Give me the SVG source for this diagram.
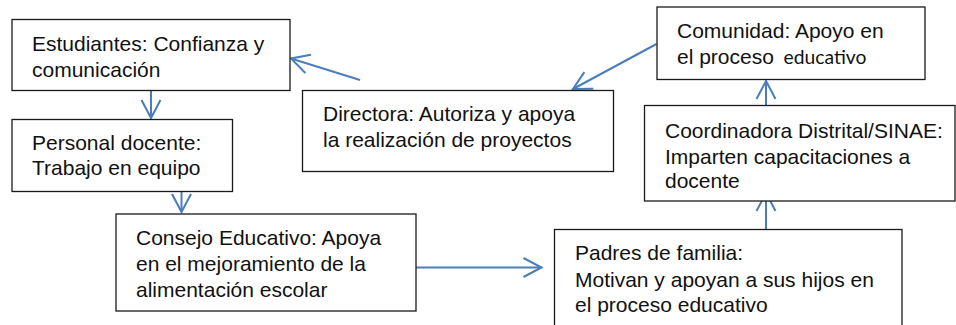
<svg xmlns="http://www.w3.org/2000/svg" width="956" height="325" viewBox="0 0 956 325">
<defs>
<style>
.box{fill:#fff;stroke:#1a1a1a;stroke-width:1.3}
.t{font-family:"Liberation Sans",Arial,sans-serif;font-size:21px;fill:#111}
.c{font-family:Lato,"Noto Sans",sans-serif;font-size:20px;fill:#111}
.con{fill:none;stroke:#4a7ebb;stroke-width:2}
</style>
<marker id="ah" markerUnits="userSpaceOnUse" markerWidth="40" markerHeight="40" viewBox="-20 -20 40 40" refX="0" refY="0" orient="auto">
<path d="M-18,-9.5 L0,0 L-18,9.5" fill="none" stroke="#4a7ebb" stroke-width="2"/>
</marker>
</defs>
<rect width="956" height="325" fill="#fff"/>
<g id="connectors">
<line class="con" x1="151" y1="91" x2="151" y2="118" marker-end="url(#ah)"/>
<line class="con" x1="181.5" y1="192" x2="181.5" y2="212" marker-end="url(#ah)"/>
<line class="con" x1="416" y1="267.5" x2="541.5" y2="267.5" marker-end="url(#ah)"/>
<line class="con" x1="766" y1="229" x2="766" y2="193" marker-end="url(#ah)"/>
<line class="con" x1="766" y1="105" x2="766" y2="81" marker-end="url(#ah)"/>
<line class="con" x1="656.5" y1="44" x2="573" y2="89" marker-end="url(#ah)"/>
<line class="con" x1="360" y1="80" x2="291" y2="58.5" marker-end="url(#ah)"/>
</g>
<g id="estudiantes">
<rect class="box" x="12" y="19.5" width="278" height="71"/>
<text class="t" x="32" y="51">Estudiantes: Confianza y</text>
<text class="t" x="32" y="77">comunicación</text>
</g>
<g id="personal">
<rect class="box" x="12" y="119.5" width="220.5" height="72"/>
<text class="t" x="32" y="150">Personal docente:</text>
<text class="t" x="32" y="175">Trabajo en equipo</text>
</g>
<g id="consejo">
<rect class="box" x="116" y="214" width="300" height="97"/>
<text class="t" x="136" y="245">Consejo Educativo: Apoya</text>
<text class="t" x="136" y="270.5">en el mejoramiento de la</text>
<text class="t" x="136" y="296.5">alimentación escolar</text>
</g>
<g id="padres">
<rect class="box" x="554.5" y="229.5" width="347.5" height="100"/>
<text class="t" x="575" y="260">Padres de familia:</text>
<text class="t" x="575" y="286.5">Motivan y apoyan a sus hijos en</text>
<text class="t" x="575" y="311.5">el proceso educativo</text>
</g>
<g id="coordinadora">
<rect class="box" x="644.5" y="105.5" width="310.5" height="95.5"/>
<text class="t" x="665" y="137.5">Coordinadora Distrital/SINAE:</text>
<text class="t" x="665" y="163.5">Imparten capacitaciones a</text>
<text class="t" x="665" y="187.5">docente</text>
</g>
<g id="comunidad">
<rect class="box" x="657" y="7" width="268" height="72.5"/>
<text class="t" x="677" y="37.5">Comunidad: Apoyo en</text>
<text class="t" x="677" y="63.5">el proceso</text>
<text class="c" x="783.5" y="63.5" textLength="83" lengthAdjust="spacingAndGlyphs">educativo</text>
</g>
<g id="directora">
<rect class="box" x="302.5" y="90.5" width="311" height="81"/>
<text class="t" x="323" y="120.5">Directora: Autoriza y apoya</text>
<text class="t" x="323" y="146.5">la realización de proyectos</text>
</g>
</svg>
